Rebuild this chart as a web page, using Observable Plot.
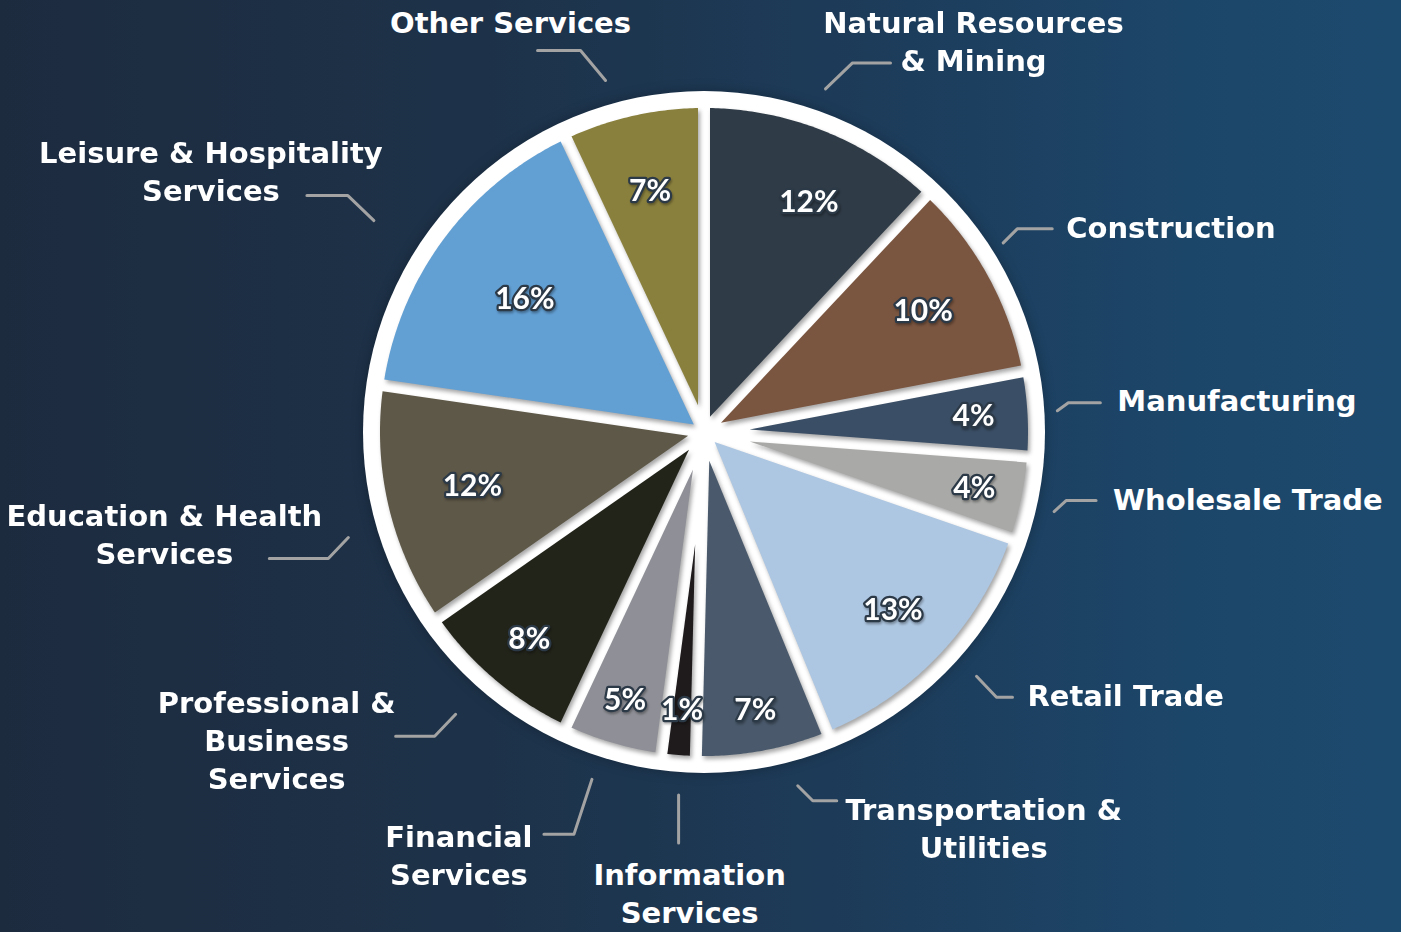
<!DOCTYPE html>
<html>
<head>
<meta charset="utf-8">
<script src="https://cdn.jsdelivr.net/npm/d3@7"></script>
<script src="https://cdn.jsdelivr.net/npm/@observablehq/plot@0.6"></script>
<style>
  html, body { margin: 0; padding: 0; width: 1401px; height: 932px; overflow: hidden; }
  body { background: linear-gradient(90deg, #1d2b3f 0%, #1d3249 35%, #1d3d5c 65%, #1c4669 85%, #1c4a6e 100%); }
  #chart svg { display: block; }
</style>
</head>
<body>
<div id="chart"></div>
<script>
// ---------- data (clockwise from 12 o'clock) ----------
const categories = [
  "Natural Resources & Mining", "Construction", "Manufacturing", "Wholesale Trade",
  "Retail Trade", "Transportation & Utilities", "Information Services", "Financial Services",
  "Professional & Business Services", "Education & Health Services",
  "Leisure & Hospitality Services", "Other Services"
];
const values = [12.0, 10.0, 4.2, 4.1, 13.5, 6.6, 1.7, 4.9, 8.3, 12.0, 15.7, 7.0];
const percentLabels = ["12%", "10%", "4%", "4%", "13%", "7%", "1%", "5%", "8%", "12%", "16%", "7%"];
const sectorLabels = [
  "Natural Resources\n& Mining", "Construction", "Manufacturing", "Wholesale Trade",
  "Retail Trade", "Transportation &\nUtilities", "Information\nServices", "Financial\nServices",
  "Professional &\nBusiness\nServices", "Education & Health\nServices",
  "Leisure & Hospitality\nServices", "Other Services"
];
const colors = [
  "#2f3b47", "#7a5540", "#3a4e65", "#a9a9a7", "#adc6e1", "#4a5a6c",
  "#1f1b1d", "#8f9097", "#22241a", "#5e5848", "#629fd3", "#8a803e"
];

// ---------- layout ----------
const W = 1401, H = 932;
const CX = 703.5, CY = 431.5;      // pie centre in page pixels
const R_BACK = 341;                 // white disc
const R_SLICE = 324;                // slice outer radius
const GAP = 12;                     // white gap between slices
// per slice: percent-label radius; leader: angular nudge (deg), start radius,
// elbow offset, horizontal run, text offset from run end, text anchor
const pctRadius = [252, 250, 270, 276, 260, 283, 279, 280, 271, 238, 223, 247];
const pctNudge  = [3, 0, 0, 0, 0, 0, 0, 0, 0, 0, 0, 0];
const leaderLayout = [
  {da: -2.1, r0: 364, ex: 27,  ey: -26, hx: 38,  tx: 83,   ty: -21,  anchor: "middle"},
  {da: -3.5, r0: 354, ex: 14,  ey: -14, hx: 35,  tx: 14,   ty: -1,   anchor: "start"},
  {da: -0.2, r0: 354, ex: 11,  ey: -8,  hx: 32,  tx: 17,   ty: -2,   anchor: "start"},
  {da: 1.1,  r0: 359, ex: 12,  ey: -11, hx: 30,  tx: 17,   ty: -1,   anchor: "start"},
  {da: -1.5, r0: 366, ex: 20,  ey: 21,  hx: 16,  tx: 15,   ty: -2,   anchor: "start"},
  {da: -4.4, r0: 366, ex: 15,  ey: 15,  hx: 24,  tx: 147,  ty: 28,   anchor: "middle"},
  {da: -0.5, r0: 364, ex: 0,   ey: 48,  hx: 0,   tx: 11,   ty: 51,   anchor: "middle"},
  {da: 1.5,  r0: 365, ex: -18, ey: 55,  hx: -30, tx: -85,  ty: 21.5, anchor: "middle"},
  {da: 1.2,  r0: 376, ex: -21, ey: 22,  hx: -39, tx: -119, ty: 5,    anchor: "middle"},
  {da: -3.2, r0: 371, ex: -20, ey: 21,  hx: -59, tx: -105, ty: -24,  anchor: "middle"},
  {da: -3.9, r0: 392, ex: -26, ey: -25, hx: -41, tx: -96,  ty: -24,  anchor: "middle"},
  {da: -3.05,r0: 365, ex: -25, ey: -30, hx: -43, tx: -27,  ty: -28,  anchor: "middle"}
];

// ---------- derived geometry ----------
const polar = (a, r) => [r * Math.sin(a), -r * Math.cos(a)];
const rad = d => d * Math.PI / 180;
const arcs = d3.pie().sort(null).value(d => d)(values);

const slicePts = [];
arcs.forEach((a, i) => {
  const half = GAP / 2;
  const span = a.endAngle - a.startAngle;
  const mid = (a.startAngle + a.endAngle) / 2;
  const apex = polar(mid, half / Math.sin(span / 2));
  const delta = Math.asin(half / R_SLICE);
  const a0 = a.startAngle + delta, a1 = a.endAngle - delta;
  const n = Math.max(4, Math.ceil((a1 - a0) / rad(0.5)));
  slicePts.push({cat: categories[i], x: apex[0], y: apex[1]});
  for (let k = 0; k <= n; k++) {
    const p = polar(a0 + (a1 - a0) * k / n, R_SLICE);
    slicePts.push({cat: categories[i], x: p[0], y: p[1]});
  }
  slicePts.push({cat: categories[i], x: apex[0], y: apex[1]});
});

const pctData = arcs.map((a, i) => {
  const mid = (a.startAngle + a.endAngle) / 2 + rad(pctNudge[i]);
  const p = polar(mid, pctRadius[i]);
  return {x: p[0], y: p[1], text: percentLabels[i]};
});

const leaderPts = [];
const labelData = [];
arcs.forEach((a, i) => {
  const L = leaderLayout[i];
  const mid = (a.startAngle + a.endAngle) / 2 + rad(L.da);
  const s = polar(mid, L.r0);
  const e = [s[0] + L.ex, s[1] + L.ey];
  const h = [e[0] + L.hx, e[1]];
  leaderPts.push({cat: categories[i], x: s[0], y: s[1]});
  leaderPts.push({cat: categories[i], x: e[0], y: e[1]});
  if (L.hx !== 0) leaderPts.push({cat: categories[i], x: h[0], y: h[1]});
  labelData.push({x: h[0] + L.tx, y: h[1] + L.ty, text: sectorLabels[i], anchor: L.anchor});
});

const labelMark = anchor => Plot.text(labelData.filter(d => d.anchor === anchor), {
  x: "x", y: "y", text: "text", textAnchor: anchor, lineAnchor: "middle", dy: -2,
  fill: "white", fontSize: 29, fontWeight: 700, fontFamily: "'DejaVu Sans', Lato, sans-serif",
  lineHeight: 1.31
});

const svg = Plot.plot({
  width: W, height: H,
  margin: 0,
  style: {background: "transparent", overflow: "visible"},
  x: {type: "linear", domain: [-CX, W - CX], range: [0, W], axis: null},
  y: {type: "linear", domain: [-CY, H - CY], range: [0, H], axis: null},
  color: {type: "ordinal", domain: categories, range: colors},
  marks: [
    Plot.dot([0], {x: () => 0, y: () => 0, r: R_BACK, fill: "white", stroke: "none"}),
    Plot.line(slicePts, {x: "x", y: "y", z: "cat", fill: "cat", stroke: "none", curve: "linear"}),
    Plot.text(pctData, {
      x: "x", y: "y", text: "text", fill: "white", stroke: "#2c3947", strokeWidth: 4.5,
      paintOrder: "stroke", strokeLinejoin: "round",
      fontSize: 30, fontWeight: 700, fontFamily: "Lato, 'Open Sans', sans-serif"
    }),
    Plot.line(leaderPts, {x: "x", y: "y", z: "cat", stroke: "#a3a3a3", strokeWidth: 3, curve: "linear"}),
    labelMark("start"), labelMark("middle"), labelMark("end")
  ]
});

// soft drop shadow on slices
const groups = svg.querySelectorAll("g[aria-label='line']");
if (groups.length) groups[0].style.filter = "drop-shadow(2px 3px 2px rgba(0,0,0,0.35))";
const dots = svg.querySelector("g[aria-label='dot']");
if (dots) dots.style.filter = "drop-shadow(0px 0px 6px rgba(0,0,0,0.25))";
const pt = svg.querySelectorAll("g[aria-label='text']");
if (pt.length) pt[0].style.filter = "drop-shadow(1px 2px 1px rgba(0,0,0,0.3))";

document.getElementById("chart").appendChild(svg);
</script>
</body>
</html>
